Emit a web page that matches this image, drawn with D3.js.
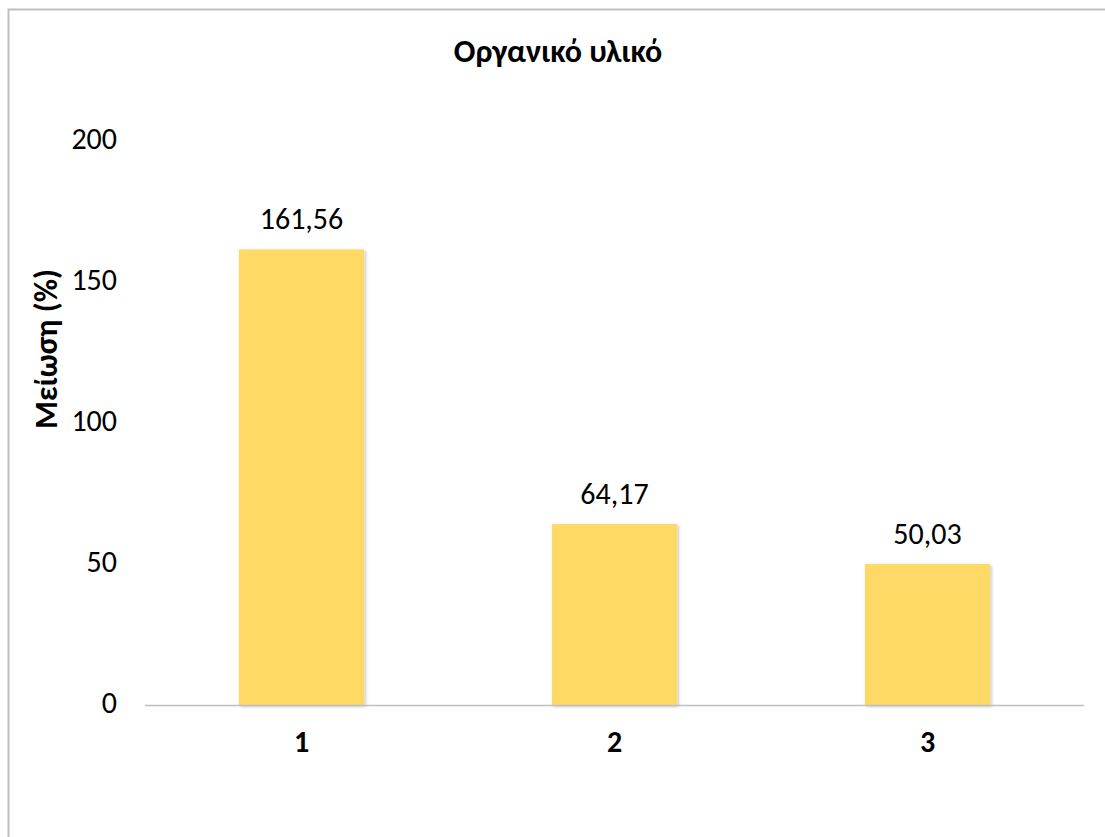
<!DOCTYPE html>
<html>
<head>
<meta charset="utf-8">
<script src="https://cdn.jsdelivr.net/npm/d3@7"></script>
<style>
  body { margin: 0; background: #fff; }
  svg { display: block; }
  text { font-family: Carlito, "Open Sans", "Noto Sans", sans-serif; fill: #000; }
</style>
</head>
<body>
<svg id="chart" width="1105" height="837"></svg>
<script>
const categories = ["1", "2", "3"];
const values = [161.56, 64.17, 50.03];
const valueLabels = ["161,56", "64,17", "50,03"];
const yTicks = [0, 50, 100, 150, 200];
const chartTitle = "Οργανικό υλικό";
const yTitle = "Μείωση (%)";

(function () {
const svg = d3.select("#chart");
const FONT = 'Carlito, "Open Sans", "Noto Sans", sans-serif';

svg.append("rect").attr("x", 8.5).attr("y", 9.5).attr("width", 1110).attr("height", 840)
  .attr("fill", "#fff").attr("stroke", "#bfbfbf").attr("stroke-width", 2);

const mLeft = 145, mRight = 1084, mTop = 141, mBottom = 705;

const x = d3.scaleBand().domain(categories).range([mLeft, mRight]).paddingInner(0.6).paddingOuter(0.3);
const y = d3.scaleLinear().domain([0, 200]).range([mBottom, mTop]);

const defs = svg.append("defs");
const f = defs.append("filter").attr("id", "shadow").attr("x", "-10%").attr("y", "-10%").attr("width", "130%").attr("height", "130%");
f.append("feDropShadow").attr("dx", 1.5).attr("dy", 1.5).attr("stdDeviation", 1.5).attr("flood-color", "#000").attr("flood-opacity", 0.25);

svg.append("g").selectAll("rect").data(values).join("rect")
  .attr("x", (d, i) => x(categories[i]))
  .attr("y", d => y(d))
  .attr("width", x.bandwidth())
  .attr("height", d => y(0) - y(d))
  .attr("fill", "#FFD966")
  .attr("filter", "url(#shadow)");

svg.append("line").attr("x1", mLeft).attr("x2", mRight).attr("y1", y(0) + 0.5).attr("y2", y(0) + 0.5)
  .attr("stroke", "#bfbfbf").attr("stroke-width", 1.5);

const yAxis = d3.axisLeft(y).tickValues(yTicks).tickSize(0).tickPadding(0).tickFormat(d => d);
const gy = svg.append("g").attr("transform", `translate(117,0)`).call(yAxis);
gy.select(".domain").remove();
gy.selectAll("text").attr("font-size", 30).attr("fill", "#000").attr("dy", "0.26em")
  .style("font-family", FONT);

const xAxis = d3.axisBottom(x).tickSize(0).tickPadding(0);
const gx = svg.append("g").attr("transform", `translate(0,752)`).call(xAxis);
gx.select(".domain").remove();
gx.selectAll("text").attr("font-size", 30).attr("font-weight", "bold").attr("fill", "#000")
  .attr("dy", "0").attr("y", 0)
  .style("font-family", FONT);

svg.append("g").selectAll("text").data(values).join("text")
  .attr("x", (d, i) => x(categories[i]) + x.bandwidth() / 2)
  .attr("y", d => y(d) - 20)
  .attr("text-anchor", "middle")
  .attr("font-size", 30)
  .text((d, i) => valueLabels[i]);

svg.append("text").attr("x", 558).attr("y", 62).attr("text-anchor", "middle")
  .attr("font-size", 32).attr("font-weight", "bold").text(chartTitle);

svg.append("text").attr("transform", `translate(57,349) rotate(-90)`)
  .attr("text-anchor", "middle").attr("font-size", 32).attr("font-weight", "bold").text(yTitle);
})();
</script>
</body>
</html>
